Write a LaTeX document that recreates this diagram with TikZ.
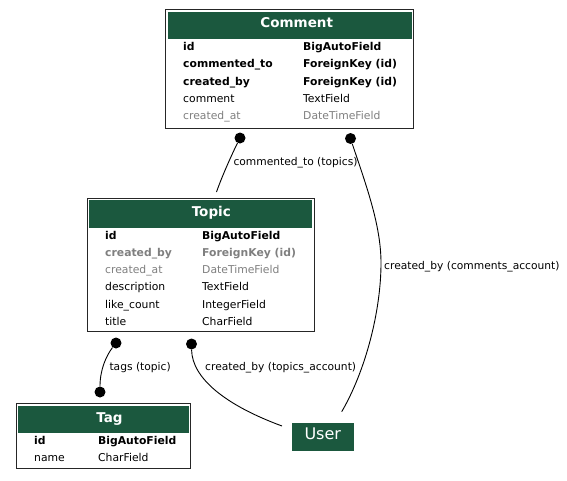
\documentclass[tikz,border=0pt]{standalone}
\usepackage{fontspec}
\setmainfont{DejaVu Sans}
\usepackage{tikz}
\usetikzlibrary{positioning}
\definecolor{hdgreen}{HTML}{1B583E}
\definecolor{fkgray}{HTML}{7F7F7F}
\tikzset{
  tblframe/.style={rectangle, draw=black!85, line width=1pt, inner sep=0pt},
  tblhead/.style={rectangle, fill=hdgreen, inner sep=0pt},
  tbltitle/.style={anchor=base, inner sep=0pt, text=white, font=\fontsize{13.5}{16}\selectfont\bfseries},
  fld/.style={anchor=base west, inner sep=0pt, font=\fontsize{10.8}{13}\selectfont},
  fldb/.style={fld, font=\fontsize{10.8}{13}\selectfont\bfseries},
  fldg/.style={fld, text=fkgray},
  fldgb/.style={fldb, text=fkgray},
  fkdot/.style={circle, fill=black, inner sep=0pt, minimum size=11pt},
  rel/.style={line width=0.9pt, draw=black},
  rellbl/.style={anchor=base west, inner sep=0pt, font=\fontsize{10.7}{13}\selectfont},
}
\begin{document}
\begin{tikzpicture}[x=1pt, y=-1pt]
    \useasboundingbox (0,0) rectangle (567,480);
    \node[tblframe, minimum width=248pt, minimum height=118.5pt] (comment) at (289.5,68.75) {};
    \node[tblhead, minimum width=244pt, minimum height=27.5pt] (comment-h) at (289.5,25.25) {};
    \node[tbltitle] (comment-t) at (296.7,27.7) {Comment};
    \node[fldb] (c-id) at (183,50.5) {id};
    \node[fldb] (c-id-t) at (303,50.5) {BigAutoField};
    \node[fldb] (c-to) at (183,67.75) {commented\_to};
    \node[fldb] (c-to-t) at (303,67.75) {ForeignKey (id)};
    \node[fldb] (c-by) at (183,85) {created\_by};
    \node[fldb] (c-by-t) at (303,85) {ForeignKey (id)};
    \node[fld] (c-cm) at (183,102.25) {comment};
    \node[fld] (c-cm-t) at (303,102.25) {TextField};
    \node[fldg] (c-at) at (183,119.5) {created\_at};
    \node[fldg] (c-at-t) at (303,119.5) {DateTimeField};

    \node[tblframe, minimum width=227pt, minimum height=133.5pt] (topic) at (200.5,264.75) {};
    \node[tblhead, minimum width=223pt, minimum height=28pt] (topic-h) at (200.5,214) {};
    \node[tbltitle] (topic-t) at (211.3,216.7) {Topic};
    \node[fldb] (t-id) at (105,239.2) {id};
    \node[fldb] (t-id-t) at (202,239.2) {BigAutoField};
    \node[fldgb] (t-by) at (105,256.4) {created\_by};
    \node[fldgb] (t-by-t) at (202,256.4) {ForeignKey (id)};
    \node[fldg] (t-at) at (105,273.6) {created\_at};
    \node[fldg] (t-at-t) at (202,273.6) {DateTimeField};
    \node[fld] (t-desc) at (105,290.8) {description};
    \node[fld] (t-desc-t) at (202,290.8) {TextField};
    \node[fld] (t-like) at (105,308) {like\_count};
    \node[fld] (t-like-t) at (202,308) {IntegerField};
    \node[fld] (t-title) at (105,325.2) {title};
    \node[fld] (t-title-t) at (202,325.2) {CharField};

    \node[tblframe, minimum width=174.5pt, minimum height=65pt] (tag) at (103.25,436) {};
    \node[tblhead, minimum width=170.5pt, minimum height=27pt] (tag-h) at (103.25,419) {};
    \node[tbltitle] (tag-t) at (109.5,422) {Tag};
    \node[fldb] (g-id) at (34,444.3) {id};
    \node[fldb] (g-id-t) at (98,444.3) {BigAutoField};
    \node[fld] (g-name) at (34,461.3) {name};
    \node[fld] (g-name-t) at (98,461.3) {CharField};

    \node[tblhead, minimum width=61.5pt, minimum height=28pt, text=white, text height=12pt, text depth=7.4pt,
          font=\fontsize{16}{18}\selectfont] (user) at (322.75,437) {User};

    \node[fkdot] (c-dot1) at (240,138) {};
    \node[fkdot] (c-dot2) at (350.5,138.5) {};
    \node[fkdot] (t-dot1) at (116,343) {};
    \node[fkdot] (t-dot2) at (191.5,344) {};
    \node[fkdot] (g-dot) at (100,392) {};
    \coordinate (topic-in) at (216.5,192);
    \coordinate (user-top) at (341.7,411.7);
    \coordinate (user-left) at (282,426);

    \draw[rel] (c-dot1) .. controls (233,152) and (222,176) .. (topic-in);
    \draw[rel] (c-dot2) .. controls (366,185) and (381,225) .. (381,263)
                        .. controls (381,310) and (366,370) .. (user-top);
    \draw[rel] (t-dot1) .. controls (106,356) and (100,370) .. (g-dot);
    \draw[rel] (t-dot2) .. controls (192,378) and (225,405) .. (user-left);

    \node[rellbl] (l-to) at (233.3,165.5) {commented\_to (topics)};
    \node[rellbl] (l-cby) at (384,269.5) {created\_by (comments\_account)};
    \node[rellbl] (l-tags) at (109.3,370.7) {tags (topic)};
    \node[rellbl] (l-tby) at (205,370.7) {created\_by (topics\_account)};
\end{tikzpicture}
\end{document}
